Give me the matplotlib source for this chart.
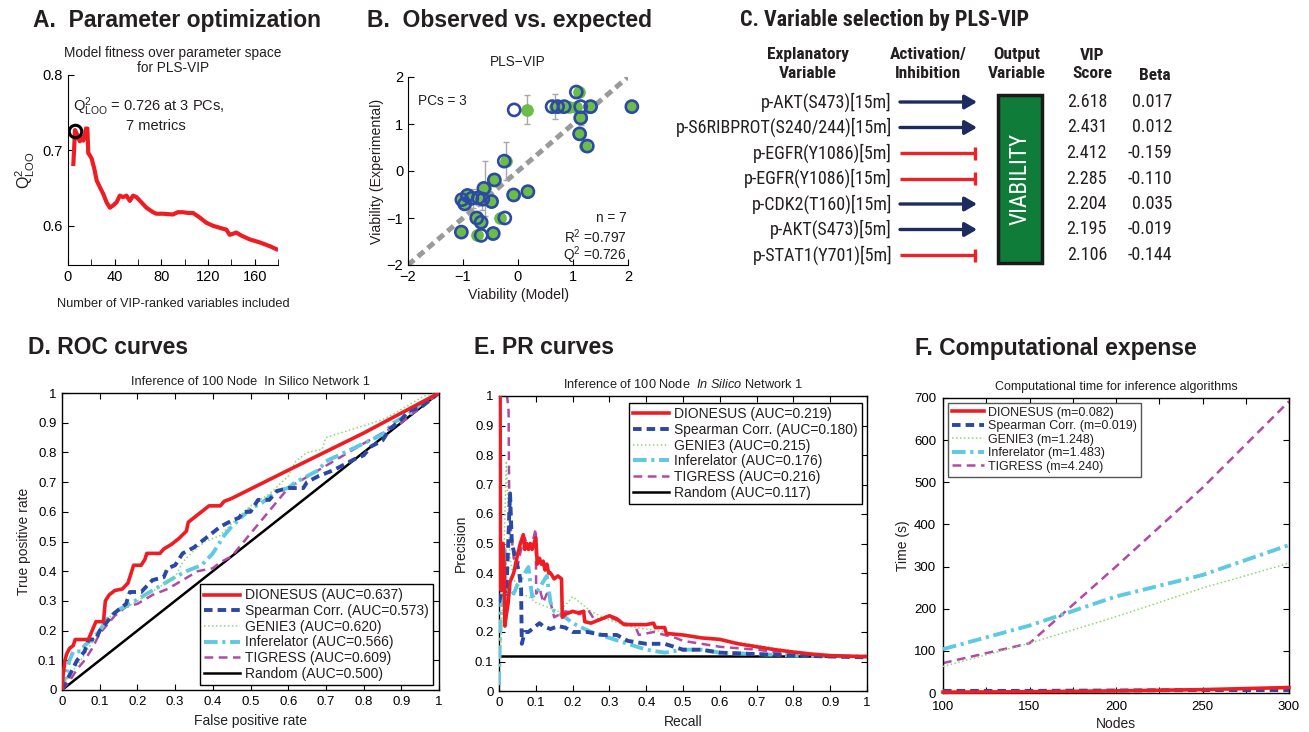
from __future__ import annotations

import os

import matplotlib

matplotlib.use("Agg")
import matplotlib.pyplot as plt
from matplotlib import font_manager
from matplotlib.font_manager import FontProperties
from matplotlib.patches import Rectangle


W_PX, H_PX = 1309, 732
OUT_PNG = "out.png"

# ---------------- panel A: Q2 vs number of VIP-ranked variables
A_N_VARS = [4.6, 5.2, 6.0, 7.5, 8.9, 10.2, 11.7, 13.1, 14.5, 15.4,
            16.6, 17.4, 18.5, 20.3, 22.5, 24.6, 27.4, 30.3, 33.1, 35.9,
            38.7, 41.6, 44.4, 47.3, 50.1, 53.0, 55.8, 58.7, 63.0, 67.2,
            72.9, 75.8, 81.5, 90.0, 94.0, 98.6, 103.0, 107.2, 112.9, 118.6,
            124.3, 132.9, 135.7, 138.6, 144.3, 148.6, 155.7, 164.3, 172.9, 178.6]
A_Q2 = [0.682, 0.700, 0.727, 0.722, 0.716, 0.712, 0.718, 0.713, 0.720, 0.729,
        0.729, 0.696, 0.694, 0.689, 0.676, 0.660, 0.651, 0.642, 0.631, 0.624,
        0.627, 0.631, 0.640, 0.638, 0.640, 0.633, 0.640, 0.638, 0.631, 0.624,
        0.618, 0.616, 0.616, 0.615, 0.618, 0.618, 0.617, 0.617, 0.611, 0.604,
        0.600, 0.596, 0.595, 0.588, 0.591, 0.587, 0.582, 0.578, 0.573, 0.569]
A_BEST_N = 6
A_BEST_Q2 = 0.726

# ---------------- panel B: observed vs expected viability
B_EXPERIMENTAL = [1.68, 1.30, 1.37, 1.37, 1.37, 1.37, 1.37, 1.37, 1.13, 0.79,
                  0.53, 0.21, -0.19, -0.37, -0.44, -0.51, -0.65, -0.52, -0.58, -0.57,
                  -0.60, -0.61, -0.70, -1.00, -1.09, -1.00, -1.30, -1.37, -1.33]
B_MODEL_FIT = [1.10, 0.17, 0.68, 0.78, 0.93, 1.06, 1.30, 2.05, 1.14, 1.12,
               1.22, -0.22, -0.43, -0.60, 0.17, -0.08, -0.50, -0.90, -0.82, -0.73,
               -0.66, -1.00, -0.97, -0.77, -0.68, -0.33, -1.03, -0.74, -0.48]
B_MODEL_CV = [1.06, -0.07, 0.62, 0.72, 0.84, 1.14, 1.32, 2.07, 1.14, 1.12,
              1.26, -0.25, -0.43, -0.62, 0.18, -0.08, -0.48, -0.92, -0.84, -0.72,
              -0.64, -1.02, -0.97, -0.75, -0.67, -0.24, -1.03, -0.67, -0.45]
B_YERR = [0.0, 0.31, 0.27, 0.0, 0.0, 0.0, 0.0, 0.0, 0.15, 0.0,
          0.0, 0.41, 0.0, 0.58, 0.0, 0.0, 0.0, 0.12, 0.20, 0.15,
          0.22, 0.0, 0.0, 0.0, 0.0, 0.0, 0.0, 0.0, 0.0]
B_LIMITS = [-2, 2]

# ---------------- panel C: variable selection table
C_VARIABLES = ["p-AKT(S473)[15m]", "p-S6RIBPROT(S240/244)[15m]", "p-EGFR(Y1086)[5m]",
               "p-EGFR(Y1086)[15m]", "p-CDK2(T160)[15m]", "p-AKT(S473)[5m]",
               "p-STAT1(Y701)[5m]"]
C_ACTIVATES = [True, True, False, False, True, True, False]
C_VIP = [2.618, 2.431, 2.412, 2.285, 2.204, 2.195, 2.106]
C_BETA = [0.017, 0.012, -0.159, -0.110, 0.035, -0.019, -0.144]

# ---------------- panels D-F: network inference
METHODS = ["DIONESUS", "Spearman Corr.", "GENIE3", "Inferelator", "TIGRESS"]
ROC_AUC = [0.637, 0.573, 0.620, 0.566, 0.609]
PR_AUC = [0.219, 0.180, 0.215, 0.176, 0.216]
SLOPE_M = [0.082, 0.019, 1.248, 1.483, 4.240]
RANDOM_ROC_AUC = 0.500
RANDOM_PR_AUC = 0.117

ROC_DIONESUS_FPR = [0.0, 0.003, 0.008, 0.012, 0.02, 0.03, 0.035, 0.07, 0.08, 0.09,
                    0.11, 0.115, 0.125, 0.14, 0.16, 0.175, 0.18, 0.19, 0.21, 0.22,
                    0.225, 0.26, 0.27, 0.29, 0.31, 0.33, 0.335, 0.35, 0.37, 0.39,
                    0.42, 0.43, 0.45, 0.6, 0.8, 1.0]
ROC_DIONESUS_TPR = [0.0, 0.05, 0.10, 0.12, 0.14, 0.15, 0.17, 0.17, 0.20, 0.23,
                    0.23, 0.30, 0.32, 0.335, 0.34, 0.36, 0.38, 0.42, 0.42, 0.44,
                    0.46, 0.46, 0.475, 0.49, 0.51, 0.535, 0.565, 0.58, 0.60, 0.62,
                    0.62, 0.635, 0.645, 0.74, 0.865, 1.0]
ROC_SPEARMAN_FPR = [0.0, 0.02, 0.04, 0.06, 0.07, 0.09, 0.1, 0.12, 0.14, 0.17,
                    0.18, 0.21, 0.24, 0.27, 0.28, 0.3, 0.32, 0.35, 0.38, 0.4,
                    0.42, 0.45, 0.47, 0.48, 0.5, 0.52, 0.55, 0.57, 0.6, 0.64,
                    0.65, 0.68, 0.72, 0.75, 0.78, 0.8, 0.82, 0.85, 0.87, 0.9,
                    0.92, 0.95, 1.0]
ROC_SPEARMAN_TPR = [0.0, 0.05, 0.10, 0.13, 0.17, 0.17, 0.20, 0.23, 0.26, 0.29,
                    0.33, 0.33, 0.37, 0.38, 0.41, 0.42, 0.46, 0.48, 0.51, 0.53,
                    0.55, 0.57, 0.58, 0.60, 0.60, 0.64, 0.64, 0.67, 0.68, 0.68,
                    0.70, 0.72, 0.74, 0.76, 0.78, 0.79, 0.82, 0.84, 0.88, 0.91,
                    0.94, 0.95, 1.0]
ROC_GENIE3_FPR = [0.0, 0.02, 0.05, 0.08, 0.1, 0.13, 0.16, 0.2, 0.25, 0.3,
                  0.32, 0.35, 0.38, 0.42, 0.45, 0.5, 0.55, 0.6, 0.62, 0.65,
                  0.69, 0.7, 0.75, 0.8, 0.85, 0.88, 0.92, 0.96, 1.0]
ROC_GENIE3_TPR = [0.0, 0.05, 0.10, 0.16, 0.20, 0.25, 0.27, 0.30, 0.34, 0.38,
                  0.43, 0.47, 0.50, 0.52, 0.56, 0.62, 0.66, 0.72, 0.77, 0.80,
                  0.81, 0.85, 0.87, 0.89, 0.91, 0.93, 0.96, 0.99, 1.0]
ROC_INFERELATOR_FPR = [0.0, 0.01, 0.02, 0.03, 0.05, 0.06, 0.08, 0.1, 0.12, 0.15,
                       0.18, 0.22, 0.26, 0.3, 0.33, 0.37, 0.4, 0.43, 0.45, 0.5,
                       0.53, 0.57, 0.6, 0.62, 0.68, 0.7, 0.75, 0.8, 0.85, 0.88,
                       0.92, 0.96, 1.0]
ROC_INFERELATOR_TPR = [0.0, 0.05, 0.10, 0.13, 0.13, 0.15, 0.17, 0.20, 0.24, 0.27,
                       0.29, 0.32, 0.35, 0.38, 0.40, 0.42, 0.46, 0.52, 0.55, 0.61,
                       0.63, 0.67, 0.68, 0.70, 0.74, 0.77, 0.80, 0.83, 0.86, 0.90,
                       0.93, 0.97, 1.0]
ROC_TIGRESS_FPR = [0.0, 0.02, 0.04, 0.06, 0.08, 0.1, 0.12, 0.14, 0.17, 0.2,
                   0.24, 0.28, 0.32, 0.36, 0.4, 0.42, 0.45, 0.6, 0.8, 0.9,
                   1.0]
ROC_TIGRESS_TPR = [0.0, 0.03, 0.07, 0.10, 0.14, 0.19, 0.22, 0.25, 0.28, 0.29,
                   0.32, 0.34, 0.37, 0.40, 0.41, 0.43, 0.45, 0.68, 0.83, 0.90,
                   1.0]

PR_DIONESUS_REC = [0.0, 0.003, 0.004, 0.006, 0.008, 0.011, 0.014, 0.016, 0.019, 0.025,
                   0.03, 0.04, 0.05, 0.058, 0.066, 0.07, 0.075, 0.08, 0.085, 0.09,
                   0.1, 0.104, 0.11, 0.115, 0.12, 0.125, 0.13, 0.135, 0.14, 0.15,
                   0.16, 0.17, 0.172, 0.18, 0.2, 0.215, 0.23, 0.233, 0.25, 0.27,
                   0.3, 0.32, 0.34, 0.36, 0.4, 0.42, 0.425, 0.45, 0.455, 0.5,
                   0.55, 0.6, 0.65, 0.7, 0.75, 0.8, 0.85, 0.9, 0.95, 1.0]
PR_DIONESUS_PREC = [1.0, 1.0, 0.40, 0.34, 0.50, 0.50, 0.42, 0.22, 0.25, 0.30,
                    0.37, 0.40, 0.46, 0.50, 0.53, 0.48, 0.50, 0.48, 0.50, 0.48,
                    0.52, 0.43, 0.45, 0.43, 0.44, 0.41, 0.43, 0.40, 0.40, 0.38,
                    0.39, 0.38, 0.25, 0.26, 0.27, 0.265, 0.27, 0.235, 0.23, 0.24,
                    0.255, 0.245, 0.225, 0.225, 0.225, 0.23, 0.215, 0.215, 0.195, 0.19,
                    0.18, 0.175, 0.16, 0.15, 0.14, 0.132, 0.125, 0.12, 0.118, 0.117]
PR_SPEARMAN_REC = [0.0, 0.01, 0.02, 0.025, 0.03, 0.035, 0.045, 0.055, 0.06, 0.062,
                   0.07, 0.08, 0.09, 0.1, 0.11, 0.12, 0.14, 0.16, 0.18, 0.2,
                   0.24, 0.28, 0.32, 0.35, 0.4, 0.45, 0.5, 0.55, 0.6, 0.7,
                   0.8, 0.9, 1.0]
PR_SPEARMAN_PREC = [0.30, 0.35, 0.33, 0.50, 0.67, 0.50, 0.45, 0.40, 0.35, 0.16,
                    0.20, 0.20, 0.21, 0.22, 0.23, 0.22, 0.21, 0.22, 0.215, 0.20,
                    0.20, 0.19, 0.19, 0.17, 0.16, 0.16, 0.14, 0.14, 0.13, 0.125,
                    0.12, 0.117, 0.114]
PR_GENIE3_REC = [0.005, 0.01, 0.015, 0.02, 0.025, 0.03, 0.04, 0.05, 0.06, 0.08,
                 0.1, 0.12, 0.14, 0.16, 0.18, 0.2, 0.22, 0.25, 0.3, 0.35,
                 0.4, 0.5, 0.6, 0.7, 0.8, 0.9, 1.0]
PR_GENIE3_PREC = [0.15, 0.30, 0.55, 0.78, 0.62, 0.45, 0.38, 0.35, 0.33, 0.32,
                  0.30, 0.29, 0.28, 0.27, 0.29, 0.32, 0.30, 0.27, 0.24, 0.22,
                  0.21, 0.19, 0.175, 0.155, 0.135, 0.122, 0.117]
PR_INFERELATOR_REC = [0.0, 0.002, 0.005, 0.01, 0.015, 0.02, 0.03, 0.04, 0.05, 0.06,
                      0.07, 0.08, 0.09, 0.1, 0.12, 0.13, 0.14, 0.15, 0.18, 0.2,
                      0.25, 0.3, 0.35, 0.4, 0.45, 0.5, 0.55, 0.6, 0.7, 0.8,
                      0.9, 1.0]
PR_INFERELATOR_PREC = [0.02, 0.15, 0.25, 0.42, 0.48, 0.30, 0.35, 0.33, 0.36, 0.38,
                       0.40, 0.42, 0.32, 0.33, 0.37, 0.39, 0.30, 0.27, 0.25, 0.23,
                       0.20, 0.18, 0.16, 0.14, 0.13, 0.14, 0.14, 0.13, 0.125, 0.12,
                       0.118, 0.117]
PR_TIGRESS_REC = [0.018, 0.022, 0.026, 0.028, 0.032, 0.04, 0.05, 0.06, 0.07, 0.08,
                  0.09, 0.1, 0.101, 0.11, 0.12, 0.13, 0.14, 0.15, 0.18, 0.22,
                  0.24, 0.26, 0.3, 0.34, 0.37, 0.38, 0.42, 0.48, 0.5, 0.55,
                  0.6, 0.7, 0.8, 0.9, 1.0]
PR_TIGRESS_PREC = [1.0, 1.0, 0.95, 0.60, 0.55, 0.45, 0.42, 0.48, 0.52, 0.48,
                   0.50, 0.55, 0.33, 0.35, 0.30, 0.33, 0.30, 0.25, 0.27, 0.26,
                   0.28, 0.24, 0.25, 0.23, 0.22, 0.19, 0.20, 0.18, 0.17, 0.16,
                   0.15, 0.14, 0.125, 0.12, 0.115]

F_NODES = [100, 150, 200, 250, 300]
F_TIME_DIONESUS = [2, 3, 5, 8, 13]
F_TIME_SPEARMAN = [5, 5, 6, 7, 7]
F_TIME_GENIE3 = [63, 118, 181, 249, 308]
F_TIME_INFERELATOR = [104, 160, 229, 280, 351]
F_TIME_TIGRESS = [71, 118, 300, 487, 692]

# line styles (colour, linestyle, width) per method
STYLES = [
    ("#ee1d23", "-", 2.6),
    ("#2b48a3", (0, (2.2, 1.3)), 2.8),
    ("#8fd672", (0, (1, 1.6)), 1.1),
    ("#5ec9e1", (0, (3.5, 1.2, 0.8, 1.2)), 2.8),
    ("#b24aa4", (0, (3.5, 2.2)), 1.8),
]
GREEN = "#6cbd45"
BLUE = "#2c4aa5"
NAVY = "#1d2b5e"
RED = "#ec2227"
INK = "#231f20"

# condensed faces tried for panel C, with a width correction vs. Arial Narrow
NARROW_CANDIDATES = [
    ("liberationsansnarrow-regular.ttf", "liberationsansnarrow-bold.ttf", 1.0),
    ("robotocondensed-regular.ttf", "robotocondensed-bold.ttf", 0.96),
    ("notosans-condensed.ttf", "notosans-condensedbold.ttf", 0.93),
    ("dejavusanscondensed.ttf", "dejavusanscondensed-bold.ttf", 0.86),
]


def px_axes(fig, left, top, right, bottom):
    return fig.add_axes([left / W_PX, 1 - bottom / H_PX, (right - left) / W_PX, (bottom - top) / H_PX])


def narrow_fonts():
    paths = set(font_manager.findSystemFonts()) | {f.fname for f in font_manager.fontManager.ttflist}
    by_name = {os.path.basename(p).lower(): p for p in paths}
    for regular, bold, scale in NARROW_CANDIDATES:
        if regular in by_name and bold in by_name:
            return by_name[regular], by_name[bold], scale
    return None, None, 0.82


def fp(path, size, bold=False):
    if path is None:
        return FontProperties(family="Liberation Sans", size=size, weight="bold" if bold else "normal")
    return FontProperties(fname=path, size=size)


def matlab_box(ax, labelsize=9.5):
    ax.tick_params(which="both", direction="in", top=True, right=True, length=4,
                   width=0.8, labelsize=labelsize, pad=4)
    for s in ax.spines.values():
        s.set_linewidth(1.0)


def header(fig, x, y, text, prop=None):
    if prop is None:
        prop = FontProperties(family="Liberation Sans", size=16.5, weight="bold")
    fig.text(x / W_PX, 1 - y / H_PX, text, fontproperties=prop, va="center", ha="left", color=INK)


def panel_a(fig):
    ax = px_axes(fig, 68, 75, 278, 265)
    ax.plot(A_N_VARS, A_Q2, color="#ee1d23", lw=3.0, solid_joinstyle="round")
    ax.plot([A_BEST_N], [A_BEST_Q2], "o", ms=9, mfc="none", mec="black", mew=2.2)
    ax.set_xlim(0, 180)
    ax.set_ylim(0.548, 0.8)
    ax.set_xticks(range(0, 181, 40))
    ax.set_xticks(range(20, 181, 40), minor=True)
    ax.set_yticks([0.6, 0.7, 0.8])
    ax.tick_params(which="both", direction="in", length=4, labelsize=10.5)
    for s in ("top", "right"):
        ax.spines[s].set_visible(False)
    ax.text(4.3, 0.752, r"$\mathrm{Q}^2_{\mathrm{LOO}}$ = 0.726 at 3 PCs,", fontsize=10.5, va="baseline")
    ax.text(75, 0.727, "7 metrics", fontsize=10.5, va="baseline", ha="center")
    ax.set_title("Model fitness over parameter space\nfor PLS-VIP", fontsize=9.8, pad=1, linespacing=1.1)
    ax.set_ylabel(r"$\mathrm{Q}^2_{\mathrm{LOO}}$", fontsize=11.5, labelpad=4)
    ax.set_xlabel("Number of VIP-ranked variables included", fontsize=9.2, labelpad=10)


def panel_b(fig):
    ax = px_axes(fig, 408, 77, 628, 265)
    ax.plot(B_LIMITS, B_LIMITS, color="#9a9a9a", lw=3.6, linestyle=(0, (1.6, 1.0)), zorder=1)
    ax.errorbar(B_MODEL_FIT, B_EXPERIMENTAL, yerr=B_YERR, fmt="none", ecolor="#a8a8a8",
                elinewidth=1.0, capsize=2, zorder=1.5)
    ax.scatter(B_MODEL_FIT, B_EXPERIMENTAL, s=66, color=GREEN, zorder=2, clip_on=False)
    ax.scatter(B_MODEL_CV, B_EXPERIMENTAL, s=76, facecolors="none", edgecolors=BLUE,
               linewidths=1.9, zorder=3, clip_on=False)
    ax.set_xlim(B_LIMITS)
    ax.set_ylim(B_LIMITS)
    ax.set_xticks([-2, -1, 0, 1, 2])
    ax.set_yticks([-2, -1, 0, 1, 2])
    ax.tick_params(direction="in", length=4, labelsize=10.5)
    for s in ("top", "right"):
        ax.spines[s].set_visible(False)
    ax.text(-1.82, 1.49, "PCs = 3", fontsize=9.8, va="center")
    ax.text(1.98, -1.0, "n = 7", fontsize=9.8, ha="right", va="center")
    ax.text(1.98, -1.39, r"R$^2$ =0.797", fontsize=9.8, ha="right", va="center")
    ax.text(1.98, -1.8, r"Q$^2$ =0.726", fontsize=9.8, ha="right", va="center")
    ax.set_title("PLS\u2212VIP", fontsize=9.8, pad=8)
    ax.set_xlabel("Viability (Model)", fontsize=10.2, labelpad=3)
    ax.set_ylabel("Viability (Experimental)", fontsize=10.2, labelpad=2)


def panel_c(fig, reg_path, bold_path, scale):
    ax = px_axes(fig, 660, 0, 1309, 310)
    ax.set_xlim(660, 1309)
    ax.set_ylim(310, 0)
    ax.axis("off")
    head_fp = fp(bold_path, 13 * scale, bold=True)
    row_fp = fp(reg_path, 13.5 * scale)
    heads = [(808, "Explanatory\nVariable"), (928, "Activation/\nInhibition"),
             (1017, "Output\nVariable"), (1092, "VIP\nScore")]
    for x, t in heads:
        ax.text(x, 64, t, fontproperties=head_fp, ha="center", va="center",
                linespacing=1.25, color=INK)
    ax.text(1155, 75, "Beta", fontproperties=head_fp, ha="center", va="center", color=INK)
    row_y = [102 + 25.5 * i for i in range(len(C_VARIABLES))]
    for y, name, act, vip, beta in zip(row_y, C_VARIABLES, C_ACTIVATES, C_VIP, C_BETA):
        ax.text(892, y, name, fontproperties=row_fp, ha="right", va="center", color=INK)
        ax.text(1107, y, f"{vip:.3f}", fontproperties=row_fp, ha="right", va="center", color=INK)
        ax.text(1172, y, f"{beta:.3f}", fontproperties=row_fp, ha="right", va="center", color=INK)
        if act:
            ax.annotate("", xy=(977, y), xytext=(900, y),
                        arrowprops=dict(arrowstyle="-|>,head_length=0.6,head_width=0.35",
                                        color=NAVY, lw=2.4, mutation_scale=12,
                                        shrinkA=0, shrinkB=0))
        else:
            ax.plot([900, 975], [y, y], color=RED, lw=2.4, solid_capstyle="butt")
            ax.plot([975, 975], [y - 6.5, y + 6.5], color=RED, lw=2.4, solid_capstyle="butt")
    ax.add_patch(Rectangle((998, 95), 44, 168, facecolor="#0f7c3a", edgecolor="#1a1a1a", lw=2.5))
    ax.text(1020, 179, "VIABILITY", fontproperties=fp(reg_path, 17.5 * scale), color="white",
            rotation=90, ha="center", va="center")


def inference_legend(ax, labels, fontsize, **kw):
    leg = ax.legend(labels=labels, fontsize=fontsize, fancybox=False, framealpha=1,
                    edgecolor="black", handlelength=2.6, handletextpad=0.35,
                    labelspacing=0.12, borderpad=0.3, borderaxespad=0, **kw)
    leg.get_frame().set_linewidth(1.0)
    return leg


def panel_d(fig):
    ax = px_axes(fig, 62, 393, 439, 690)
    fprs = [ROC_DIONESUS_FPR, ROC_SPEARMAN_FPR, ROC_GENIE3_FPR, ROC_INFERELATOR_FPR, ROC_TIGRESS_FPR]
    tprs = [ROC_DIONESUS_TPR, ROC_SPEARMAN_TPR, ROC_GENIE3_TPR, ROC_INFERELATOR_TPR, ROC_TIGRESS_TPR]
    lines = []
    for i, (fpr, tpr, (c, ls, lw)) in enumerate(zip(fprs, tprs, STYLES)):
        (ln,) = ax.plot(fpr, tpr, color=c, linestyle=ls, lw=lw, zorder=6 - i)
        lines.append(ln)
    (rnd,) = ax.plot([0, 1], [0, 1], color="black", lw=1.8, zorder=1)
    lines.append(rnd)
    labels = [f"{m} (AUC={a:.3f})" for m, a in zip(METHODS, ROC_AUC)]
    labels.append(f"Random (AUC={RANDOM_ROC_AUC:.3f})")
    inference_legend(ax, labels, 10, handles=lines, loc="lower right", bbox_to_anchor=(0.984, 0.017))
    ticks = [i / 10 for i in range(11)]
    ax.set_xticks(ticks, [f"{t:g}" for t in ticks])
    ax.set_yticks(ticks, [f"{t:g}" for t in ticks])
    ax.set_xlim(0, 1)
    ax.set_ylim(0, 1)
    matlab_box(ax)
    ax.set_title("Inference of 100 Node  In Silico Network 1", fontsize=9.2, pad=6)
    ax.set_xlabel("False positive rate", fontsize=10, labelpad=5)
    ax.set_ylabel("True positive rate", fontsize=10, labelpad=5)


def panel_e(fig):
    ax = px_axes(fig, 499, 396, 867, 691)
    recs = [PR_DIONESUS_REC, PR_SPEARMAN_REC, PR_GENIE3_REC, PR_INFERELATOR_REC, PR_TIGRESS_REC]
    precs = [PR_DIONESUS_PREC, PR_SPEARMAN_PREC, PR_GENIE3_PREC, PR_INFERELATOR_PREC, PR_TIGRESS_PREC]
    lines = []
    for i, (r, p, (c, ls, lw)) in enumerate(zip(recs, precs, STYLES)):
        (ln,) = ax.plot(r, p, color=c, linestyle=ls, lw=lw, zorder=6 - i)
        lines.append(ln)
    rnd = ax.axhline(RANDOM_PR_AUC, color="black", lw=1.8, zorder=1)
    lines.append(rnd)
    labels = [f"{m} (AUC={a:.3f})" for m, a in zip(METHODS, PR_AUC)]
    labels.append(f"Random (AUC={RANDOM_PR_AUC:.3f})")
    inference_legend(ax, labels, 10, handles=lines, loc="upper right", bbox_to_anchor=(0.986, 0.976))
    ticks = [i / 10 for i in range(11)]
    ax.set_xticks(ticks, [f"{t:g}" for t in ticks])
    ax.set_yticks(ticks, [f"{t:g}" for t in ticks])
    ax.set_xlim(0, 1)
    ax.set_ylim(0, 1)
    matlab_box(ax)
    ax.set_title(r"Inference of 100 Node  $\mathit{In\ Silico}$ Network 1", fontsize=9.2, pad=6)
    ax.set_xlabel("Recall", fontsize=10, labelpad=5)
    ax.set_ylabel("Precision", fontsize=10, labelpad=5)


def panel_f(fig):
    ax = px_axes(fig, 943, 398, 1289, 693)
    times = [F_TIME_DIONESUS, F_TIME_SPEARMAN, F_TIME_GENIE3, F_TIME_INFERELATOR, F_TIME_TIGRESS]
    lines = []
    for i, (t, (c, ls, lw)) in enumerate(zip(times, STYLES)):
        (ln,) = ax.plot(F_NODES, t, color=c, linestyle=ls, lw=lw, zorder=6 - i, clip_on=False)
        lines.append(ln)
    labels = [f"{m} (m={s:.3f})" for m, s in zip(METHODS, SLOPE_M)]
    leg = inference_legend(ax, labels, 9, handles=lines, loc="upper left", bbox_to_anchor=(0.014, 0.983))
    leg.get_frame().set_edgecolor("#555555")
    ax.set_xlim(100, 300)
    ax.set_ylim(0, 700)
    ax.set_xticks(range(100, 301, 50))
    ax.set_xticks(range(125, 300, 50), minor=True)
    ax.set_yticks(range(0, 701, 100))
    matlab_box(ax)
    ax.tick_params(axis="x", pad=6)
    ax.tick_params(axis="y", pad=5)
    ax.set_title("Computational time for inference algorithms", fontsize=9, pad=6)
    ax.set_xlabel("Nodes", fontsize=10, labelpad=3)
    ax.set_ylabel("Time (s)", fontsize=10, labelpad=3)


def main() -> None:
    plt.rcParams["font.family"] = ["Liberation Sans", "DejaVu Sans"]
    plt.rcParams["mathtext.fontset"] = "custom"
    plt.rcParams["mathtext.rm"] = "Liberation Sans"
    plt.rcParams["mathtext.it"] = "Liberation Sans:italic"
    plt.rcParams["mathtext.bf"] = "Liberation Sans:bold"
    plt.rcParams["text.color"] = INK
    plt.rcParams["axes.labelcolor"] = INK

    reg_path, bold_path, scale = narrow_fonts()

    fig = plt.figure(figsize=(W_PX / 100, H_PX / 100), dpi=100)
    panel_a(fig)
    panel_b(fig)
    panel_c(fig, reg_path, bold_path, scale)
    panel_d(fig)
    panel_e(fig)
    panel_f(fig)

    header(fig, 33, 20, "A.  Parameter optimization")
    header(fig, 367, 20, "B.  Observed vs. expected")
    header(fig, 740, 20, "C. Variable selection by PLS-VIP", fp(bold_path, 16.5 * scale, bold=True))
    header(fig, 28, 348, "D. ROC curves")
    header(fig, 474, 348, "E. PR curves")
    header(fig, 915, 348, "F. Computational expense")

    fig.savefig(OUT_PNG, dpi=100)
    plt.close(fig)


if __name__ == "__main__":
    main()
